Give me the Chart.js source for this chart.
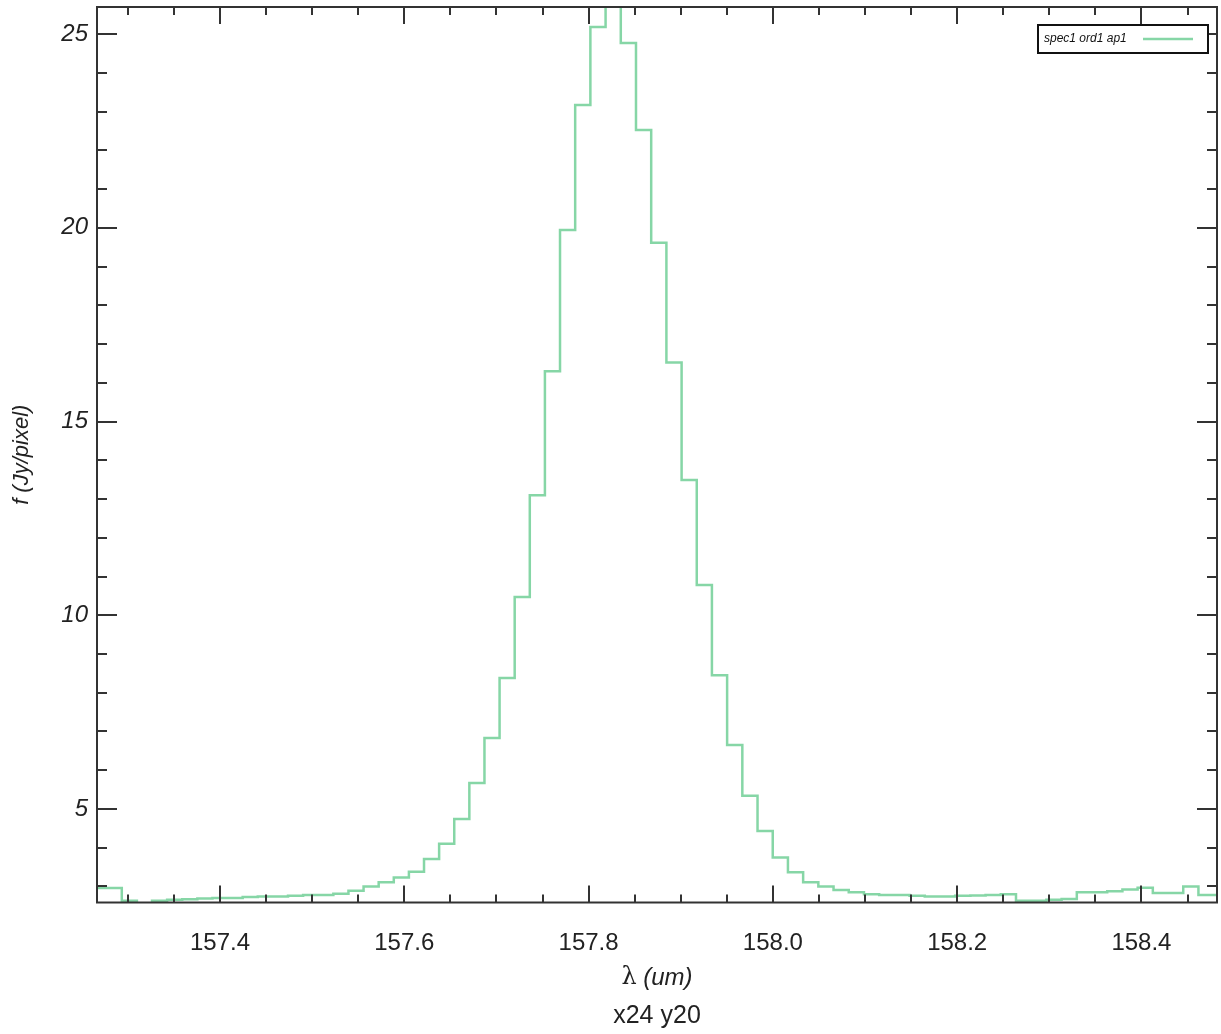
<!DOCTYPE html>
<html>
<head>
<meta charset="utf-8">
<script src="https://cdn.jsdelivr.net/npm/chart.js@4/dist/chart.umd.min.js"></script>
<style>
    html, body { margin: 0; padding: 0; background: #fff; }
    #wrap { width: 1221px; height: 1034px; position: relative; }
</style>
</head>
<body>
<div id="wrap"><canvas id="grafico"></canvas></div>
<script>
/* ===== datos ===== */
// centros de los pixeles espectrales (um)
const longitudes = [
    157.2525, 157.2689, 157.2852, 157.3016, 157.3180, 157.3344, 157.3508, 157.3672, 157.3836, 157.4000,
    157.4164, 157.4328, 157.4492, 157.4656, 157.4820, 157.4984, 157.5148, 157.5312, 157.5476, 157.5640,
    157.5804, 157.5968, 157.6132, 157.6296, 157.6460, 157.6624, 157.6788, 157.6952, 157.7116, 157.7280,
    157.7444, 157.7608, 157.7772, 157.7937, 157.8102, 157.8267, 157.8432, 157.8597, 157.8762, 157.8927,
    157.9092, 157.9256, 157.9421, 157.9586, 157.9751, 157.9916, 158.0081, 158.0246, 158.0411, 158.0576,
    158.0741, 158.0906, 158.1071, 158.1236, 158.1401, 158.1566, 158.1731, 158.1896, 158.2061, 158.2226,
    158.2391, 158.2556, 158.2721, 158.2886, 158.3051, 158.3216, 158.3381, 158.3546, 158.3711, 158.3876,
    158.4041, 158.4206, 158.4371, 158.4536, 158.4701, 158.4866, 158.5031
];
// flujo (Jy/pixel)
const flujo = [
    2.96, 2.96, 2.96, 2.63, 2.57, 2.63, 2.66, 2.67, 2.69, 2.70,
    2.70, 2.73, 2.74, 2.74, 2.76, 2.78, 2.78, 2.81, 2.89, 3.00,
    3.11, 3.23, 3.38, 3.71, 4.10, 4.74, 5.67, 6.83, 8.38, 10.47,
    13.10, 16.30, 19.94, 23.17, 25.18, 26.40, 24.77, 22.52, 19.61, 16.52,
    13.49, 10.78, 8.45, 6.65, 5.34, 4.43, 3.75, 3.37, 3.11, 3.00,
    2.91, 2.85, 2.80, 2.78, 2.78, 2.76, 2.74, 2.74, 2.76, 2.77,
    2.78, 2.80, 2.63, 2.63, 2.66, 2.68, 2.85, 2.85, 2.88, 2.92,
    2.97, 2.83, 2.83, 3.00, 2.78, 2.78, 2.78
];
const ticksX = [157.4, 157.6, 157.8, 158.0, 158.2, 158.4];
const ticksY = [5, 10, 15, 20, 25];
const etiquetaSerie = 'spec1 ord1 ap1';

const FUENTE = '"Liberation Sans", Arial, sans-serif';
const VERDE = '#86d6a6';
const NEGRO = '#333';

/* ===== marco, marcas interiores, leyenda y titulo X ===== */
const marcoPlugin = {
    id: 'marco',
    afterDatasetsDraw(chart) {
        const { ctx, chartArea: a, scales: { x, y } } = chart;
        ctx.save();
        ctx.strokeStyle = NEGRO;
        ctx.lineWidth = 2;

        const linea = (x1, y1, x2, y2) => {
            ctx.beginPath(); ctx.moveTo(x1, y1); ctx.lineTo(x2, y2); ctx.stroke();
        };

        // marcas eje X (abajo y arriba)
        for (let i = 0; i <= 23; i++) {
            const v = 157.3 + i * 0.05;
            const px = Math.round(x.getPixelForValue(v));
            if (px < a.left || px > a.right) continue;
            const mayor = ticksX.some(t => Math.abs(t - v) < 1e-6);
            const largo = mayor ? 17 : 8;
            linea(px, a.bottom, px, a.bottom - largo);
            linea(px, a.top, px, a.top + largo);
        }
        // marcas eje Y (izquierda y derecha)
        for (let v = 3; v <= 25; v++) {
            const py = Math.round(y.getPixelForValue(v));
            const mayor = ticksY.includes(v);
            const largo = mayor ? 20 : 10;
            linea(a.left, py, a.left + largo, py);
            linea(a.right, py, a.right - largo, py);
        }

        ctx.strokeRect(a.left, a.top, a.right - a.left, a.bottom - a.top);

        // leyenda
        const bx = a.right - 179, by = a.top + 18, bw = 170, bh = 28;
        ctx.fillStyle = '#fff';
        ctx.fillRect(bx, by, bw, bh);
        ctx.strokeStyle = '#111';
        ctx.strokeRect(bx, by, bw, bh);
        ctx.fillStyle = '#111';
        ctx.font = 'italic 12px ' + FUENTE;
        ctx.textBaseline = 'middle';
        ctx.textAlign = 'left';
        ctx.fillText(etiquetaSerie, bx + 6, by + bh / 2);
        ctx.strokeStyle = VERDE;
        ctx.lineWidth = 2.5;
        linea(bx + 105, by + bh / 2, bx + 155, by + bh / 2);

        // titulo eje X
        const cx = (a.left + a.right) / 2;
        ctx.fillStyle = '#222';
        ctx.font = '24px "DejaVu Serif", serif';
        const wL = ctx.measureText('λ').width;
        ctx.font = 'italic 24px ' + FUENTE;
        const wR = ctx.measureText(' (um)').width;
        let x0 = cx - (wL + wR) / 2;
        ctx.font = '24px "DejaVu Serif", serif';
        ctx.fillText('λ', x0, 978);
        ctx.font = 'italic 24px ' + FUENTE;
        ctx.fillText(' (um)', x0 + wL, 978);
        ctx.font = '25px ' + FUENTE;
        ctx.textAlign = 'center';
        ctx.fillText('x24 y20', cx, 1016);
        ctx.restore();
    }
};

/* ===== grafico ===== */
function init() {
    const ctx = document.getElementById('grafico').getContext('2d');
    new Chart(ctx, {
        type: 'line',
        data: {
            datasets: [{
                label: etiquetaSerie,
                data: longitudes.map((l, i) => ({ x: l, y: flujo[i] })),
                borderColor: VERDE,
                borderWidth: 2.5,
                stepped: 'middle',
                pointRadius: 0,
                fill: false,
                clip: 0
            }]
        },
        options: {
            responsive: true,
            maintainAspectRatio: false,
            animation: false,
            layout: { padding: { top: 7, right: 4, left: 0, bottom: 0 } },
            plugins: { legend: { display: false }, tooltip: { enabled: false } },
            scales: {
                x: {
                    type: 'linear',
                    min: 157.2665,
                    max: 158.482,
                    afterBuildTicks: s => { s.ticks = ticksX.map(v => ({ value: v })); },
                    afterFit: s => {
                        s.height = 131.5;
                        s.paddingLeft = 0; s.paddingRight = 0;
                    },
                    grid: { display: false, drawTicks: false },
                    border: { display: false },
                    ticks: {
                        padding: 26,
                        color: '#222',
                        font: { family: FUENTE, size: 24 },
                        callback: v => Number(v).toFixed(1)
                    }
                },
                y: {
                    min: 2.587,
                    max: 25.697,
                    afterBuildTicks: s => { s.ticks = ticksY.map(v => ({ value: v })); },
                    afterFit: s => {
                        s.width = 97;
                        s.paddingTop = 0; s.paddingBottom = 0;
                    },
                    grid: { display: false, drawTicks: false },
                    border: { display: false },
                    ticks: {
                        padding: 9,
                        color: '#222',
                        font: { family: FUENTE, size: 24, style: 'italic' }
                    },
                    title: {
                        display: true,
                        text: 'f (Jy/pixel)',
                        color: '#222',
                        padding: { top: 9, bottom: 0 },
                        font: { family: FUENTE, size: 22, style: 'italic' }
                    }
                }
            }
        },
        plugins: [marcoPlugin]
    });
}

window.onload = init;
</script>
</body>
</html>
